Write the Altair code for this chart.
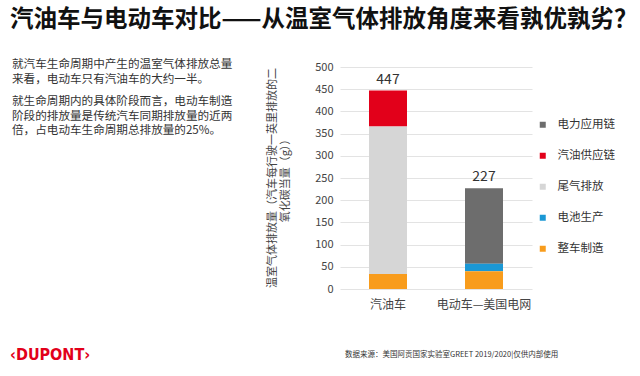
import altair as alt
import pandas as pd

vehicles = ["汽油车", "电动车—美国电网"]
stages = ["电力应用链", "汽油供应链", "尾气排放", "电池生产", "整车制造"]
stage_colors = ["#6d6d6d", "#e2001a", "#d6d6d6", "#1b98d5", "#f89c1c"]
stack_rank = [4, 3, 2, 1, 0]
gas_values = [0, 81, 332, 0, 34]
ev_values = [170, 0, 0, 17, 40]
y_ticks = [0, 50, 100, 150, 200, 250, 300, 350, 400, 450, 500]

title_text = "汽油车与电动车对比——从温室气体排放角度来看孰优孰劣？"
para_lines = [
    "就汽车生命周期中产生的温室气体排放总量",
    "来看，电动车只有汽油车的大约一半。",
    "就生命周期内的具体阶段而言，电动车制造",
    "阶段的排放量是传统汽车同期排放量的近两",
    "倍，占电动车生命周期总排放量的25%。",
]
ytitle_lines = ["温室气体排放量（汽车每行驶一英里排放的二", "氧化碳当量（g））"]
source_text = "数据来源：美国阿贡国家实验室GREET 2019/2020|仅供内部使用"
logo_text = "‹DUPONT›"

FONT = "Noto Sans CJK SC"

rows = []
for v, vals in zip(vehicles, [gas_values, ev_values]):
    for s, val, r in zip(stages, vals, stack_rank):
        if val > 0:
            rows.append({"vehicle": v, "stage": s, "value": val, "rank": r})
df = pd.DataFrame(rows)
totals = pd.DataFrame({"vehicle": vehicles, "total": [sum(gas_values), sum(ev_values)]})

PL, PT, PR, PB = 340, 67, 108, 87

x_axis = alt.Axis(labelAngle=0, labelFontSize=12, labelColor="#444",
                  labelFont=FONT, labelPadding=10, domain=False, ticks=False)
y_axis = alt.Axis(values=y_ticks, labelOverlap=False,
                  labelFontSize=11, labelColor="#444", labelFont=FONT,
                  labelPadding=7, domain=False, ticks=False, gridColor="#e3e3e3")
x_scale = alt.Scale(paddingInner=0.6, paddingOuter=0.3)
y_scale = alt.Scale(domain=[0, 500], nice=False)

bars = alt.Chart(df).mark_bar(size=38).encode(
    x=alt.X("vehicle:N", sort=vehicles, title=None, scale=x_scale, axis=x_axis),
    y=alt.Y("value:Q", stack="zero", title=None, scale=y_scale, axis=y_axis),
    color=alt.Color("stage:N", scale=alt.Scale(domain=stages, range=stage_colors),
                    legend=alt.Legend(orient="none", legendX=197, legendY=52, title=None,
                                      symbolType="square", symbolSize=36, symbolStrokeWidth=0,
                                      labelFontSize=11.5, labelFont=FONT, labelColor="#333",
                                      rowPadding=18, labelOffset=9)),
    order=alt.Order("rank:Q", sort="ascending"),
)

tot_text = alt.Chart(totals).mark_text(fontSize=14, color="#333", font=FONT, dy=-11).encode(
    x=alt.X("vehicle:N", sort=vehicles, title=None, scale=x_scale, axis=x_axis),
    y=alt.Y("total:Q", title=None, scale=y_scale, axis=y_axis),
    text="total:Q",
)

layers = [bars, tot_text]

def txt(s, x, y, font=FONT, **kw):
    return alt.Chart(pd.DataFrame({"t": [s]})).mark_text(font=font, **kw).encode(
        x=alt.value(x), y=alt.value(y), text="t:N")

layers.append(txt(title_text, 10 - PL, 20 - PT, align="left", baseline="middle",
                  fontSize=23.5, fontWeight="bold", color="#111"))
para_y = [65, 80, 102, 116.5, 131]
for line, yy in zip(para_lines, para_y):
    layers.append(txt(line, 12 - PL, yy - PT, align="left", baseline="middle",
                      fontSize=11.6, color="#333"))
for line, xx in zip(ytitle_lines, [273, 286]):
    layers.append(txt(line, xx - PL, 178 - PT, align="center", baseline="middle",
                      angle=270, fontSize=11, color="#444"))
layers.append(txt(source_text, 345 - PL, 355 - PT, align="left", baseline="middle",
                  fontSize=7.5, color="#333"))
layers.append(txt(logo_text, 10 - PL, 355 - PT, align="left", baseline="middle",
                  fontSize=16, fontWeight="bold", color="#e2001a", font="DejaVu Sans Condensed"))

chart = alt.layer(*layers).properties(
    width=640 - PL - PR, height=376 - PT - PB,
    autosize="none",
    padding={"left": PL, "top": PT, "right": PR, "bottom": PB},
    background="white",
).configure_view(stroke=None)

chart.save("out.html", embed_options={"renderer": "svg", "actions": False})
